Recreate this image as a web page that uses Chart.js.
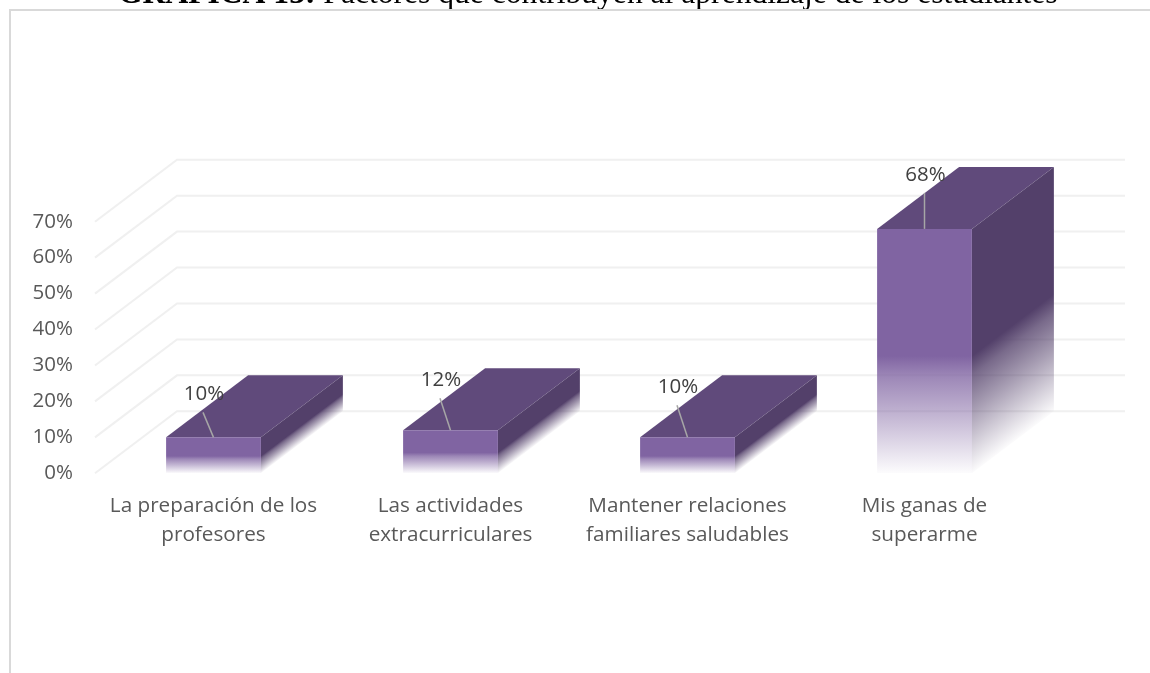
<!DOCTYPE html>
<html lang="es">
<head>
<meta charset="utf-8">
<title>Factores que contribuyen al aprendizaje</title>
<script src="https://cdn.jsdelivr.net/npm/chart.js@4"></script>
<style>html,body{margin:0;padding:0;background:#fff;overflow:hidden}canvas{display:block}</style>
</head>
<body>
<canvas id="c" width="1150" height="673"></canvas>
<script>
const categories = [
  ["La preparación de los", "profesores"],
  ["Las actividades", "extracurriculares"],
  ["Mantener relaciones", "familiares saludables"],
  ["Mis ganas de", "superarme"]
];
const values = [10, 12, 10, 68];
const dataLabels = ["10%", "12%", "10%", "68%"];
const titleBold = "GRÁFICA 13:";
const titleRest = " Factores que contribuyen al aprendizaje de los estudiantes";
const yMax = 70;
const yStep = 10;

const DX = 82, DY = 62;
const FONT = '"Open Sans", sans-serif';
const TITLE_PX = 31.6;
const rgba = (a, c) => `rgba(${c[0]},${c[1]},${c[2]},${a})`;
const FRONT = [128, 100, 162], TOP = [96, 74, 123], SIDE = [83, 64, 106];
// leader-line end relative to the bar's top centre, per bar
const leaderDx = [-10.5, -10.5, -10.5, 0];
const leaderDy = [-25, -32, -32, -36];

function addFade(g, c) {
  g.addColorStop(0, rgba(1, c));
  g.addColorStop(0.52, rgba(1, c));
  g.addColorStop(0.6, rgba(0.78, c));
  g.addColorStop(0.75, rgba(0.5, c));
  g.addColorStop(1, rgba(0.02, c));
  return g;
}

const frontFill = ctx => {
  if (ctx.raw === undefined) return rgba(1, FRONT);
  const s = ctx.chart.scales.y;
  const t = s.getPixelForValue(ctx.raw), b = s.getPixelForValue(0);
  if (!Number.isFinite(t) || !Number.isFinite(b)) return rgba(1, FRONT);
  return addFade(ctx.chart.ctx.createLinearGradient(0, t, 0, b), FRONT);
};

const scene = {
  id: 'scene',
  beforeDraw(chart) {
    const c = chart.ctx;
    c.save();
    c.fillStyle = '#fff';
    c.fillRect(0, 0, chart.width, chart.height);
    c.fillStyle = '#000';
    c.textBaseline = 'alphabetic';
    c.textAlign = 'left';
    c.font = `bold ${TITLE_PX}px "Liberation Serif", serif`;
    const w0 = c.measureText(titleBold).width;
    c.fillText(titleBold, 118, 3);
    c.font = `${TITLE_PX}px "Liberation Serif", serif`;
    c.fillText(titleRest, 118 + w0, 3);
    c.strokeStyle = '#d9d9d9';
    c.lineWidth = 2;
    c.beginPath();
    c.moveTo(1150, 10); c.lineTo(10, 10); c.lineTo(10, 673);
    c.stroke();
    c.restore();
  },
  beforeDatasetsDraw(chart) {
    const c = chart.ctx, y = chart.scales.y, a = chart.chartArea;
    c.save();
    c.strokeStyle = '#f0f0f0';
    c.lineWidth = 2;
    for (let v = 0; v <= yMax; v += yStep) {
      const p = y.getPixelForValue(v);
      c.beginPath();
      c.moveTo(a.left, p);
      c.lineTo(a.left + DX, p - DY);
      c.lineTo(a.right + DX, p - DY);
      c.stroke();
    }
    const base = y.getPixelForValue(0);
    chart.getDatasetMeta(0).data.forEach(b => {
      const l = b.x - b.width / 2, r = b.x + b.width / 2, t = b.y;
      c.fillStyle = rgba(1, TOP);
      c.beginPath();
      c.moveTo(l, t); c.lineTo(l + DX, t - DY); c.lineTo(r + DX, t - DY); c.lineTo(r, t);
      c.closePath(); c.fill();
      const h = base - t, k = h * DX / (DX * DX + DY * DY);
      const g = c.createLinearGradient(r, t, r + k * DY, t + k * DX);
      addFade(g, SIDE);
      c.fillStyle = g;
      c.beginPath();
      c.moveTo(r, t); c.lineTo(r + DX, t - DY); c.lineTo(r + DX, base - DY); c.lineTo(r, base);
      c.closePath(); c.fill();
    });
    c.restore();
  },
  afterDatasetsDraw(chart) {
    const c = chart.ctx;
    c.save();
    c.font = '20.5px ' + FONT;
    c.textAlign = 'center';
    c.textBaseline = 'middle';
    chart.getDatasetMeta(0).data.forEach((b, i) => {
      const lx = b.x + leaderDx[i], ly = b.y + leaderDy[i];
      c.strokeStyle = '#a6a6a6';
      c.lineWidth = 1.5;
      c.beginPath(); c.moveTo(b.x, b.y); c.lineTo(lx, ly); c.stroke();
      c.fillStyle = '#404040';
      c.fillText(dataLabels[i], lx + 1, ly - 18);
    });
    c.restore();
  }
};

new Chart(document.getElementById('c'), {
  type: 'bar',
  data: {
    labels: categories,
    datasets: [{ data: values, backgroundColor: frontFill, borderWidth: 0, categoryPercentage: 1, barPercentage: 0.4 }]
  },
  options: {
    responsive: false,
    animation: false,
    layout: { padding: { left: 0, right: 107, top: 221.7, bottom: 0 } },
    plugins: { legend: { display: false }, tooltip: { enabled: false }, title: { display: false } },
    scales: {
      x: {
        grid: { display: false },
        border: { display: false },
        afterFit(s) { s.height = 199.7; },
        ticks: { color: '#595959', font: { family: FONT, size: 20.7, lineHeight: 1.4 }, maxRotation: 0, minRotation: 0, padding: 10, autoSkip: false }
      },
      y: {
        min: 0, max: yMax,
        grid: { display: false },
        border: { display: false },
        afterFit(s) { s.width = 95; },
        ticks: { stepSize: yStep, color: '#595959', font: { family: FONT, size: 20.5 }, padding: 14, callback: v => v + '%' }
      }
    }
  },
  plugins: [scene]
});
</script>
</body>
</html>
